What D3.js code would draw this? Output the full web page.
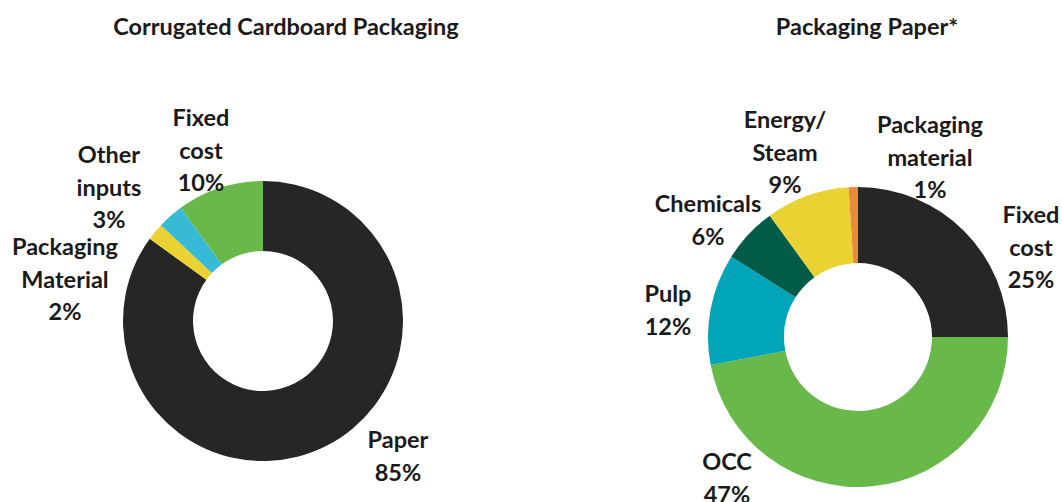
<!DOCTYPE html>
<html>
<head>
<meta charset="utf-8">
<script src="https://cdn.jsdelivr.net/npm/d3@7"></script>
<style>
  html, body { margin: 0; padding: 0; background: #fff; }
  svg { display: block; }
  text { font-family: Lato, "Open Sans", sans-serif; font-weight: 700; fill: #1a1a1a; }
</style>
</head>
<body>
<svg id="chart" width="1062" height="502"></svg>
<script>
// Cost structure, share of total cost in percent
const cardboardCategories = ["Paper", "Packaging Material", "Other inputs", "Fixed cost"];
const cardboardValues = [85, 2, 3, 10];
const cardboardColors = ["#262626", "#e9d232", "#36bad6", "#69b94a"];

const paperCategories = ["Fixed cost", "OCC", "Pulp", "Chemicals", "Energy/ Steam", "Packaging material"];
const paperValues = [25, 47, 12, 6, 9, 1];
const paperColors = ["#262626", "#69b94a", "#00a6b8", "#005c48", "#e9d232", "#e88a3a"];

const titles = ["Corrugated Cardboard Packaging", "Packaging Paper*"];

// Label anchors (centre x, first baseline) relative to each donut centre
const cardboardLabelAt = {
  "Paper": [135, 127],
  "Packaging Material": [-198, -66],
  "Other inputs": [-154, -158],
  "Fixed cost": [-62, -195]
};
const paperLabelAt = {
  "Fixed cost": [173, -114],
  "OCC": [-131, 133],
  "Pulp": [-190, -35],
  "Chemicals": [-150, -125],
  "Energy/ Steam": [-73, -209],
  "Packaging material": [72, -204]
};

const svg = d3.select("#chart");
const fontSize = 23.5;
const lineGap = 32.5;

function drawDonut(cfg) {
  const g = svg.append("g").attr("transform", `translate(${cfg.cx},${cfg.cy})`);
  const rows = cfg.categories.map((c, i) => ({ name: c, value: cfg.values[i], color: cfg.colors[i] }));
  const pie = d3.pie().sort(null).value(d => d.value);
  const arc = d3.arc().innerRadius(cfg.inner).outerRadius(cfg.outer);

  g.selectAll("path.slice")
    .data(pie(rows))
    .join("path")
    .attr("class", "slice")
    .attr("d", arc)
    .attr("fill", d => d.data.color);

  const fmt = d => `${d}%`;
  rows.forEach(r => {
    const [lx, ly] = cfg.labelAt[r.name];
    const lines = r.name.split(" ").concat([fmt(r.value)]);
    const t = g.append("text")
      .attr("text-anchor", "middle")
      .attr("font-size", fontSize);
    lines.forEach((ln, i) => {
      t.append("tspan").attr("x", lx).attr("y", ly + i * lineGap).text(ln);
    });
  });

  svg.append("text")
    .attr("x", cfg.titleX)
    .attr("y", 35)
    .attr("text-anchor", "middle")
    .attr("font-size", fontSize)
    .text(cfg.title);
}

drawDonut({
  cx: 263, cy: 321, outer: 140, inner: 70,
  categories: cardboardCategories, values: cardboardValues, colors: cardboardColors,
  labelAt: cardboardLabelAt, title: titles[0], titleX: 286
});

drawDonut({
  cx: 858, cy: 337, outer: 150, inner: 74,
  categories: paperCategories, values: paperValues, colors: paperColors,
  labelAt: paperLabelAt, title: titles[1], titleX: 867
});
</script>
</body>
</html>
